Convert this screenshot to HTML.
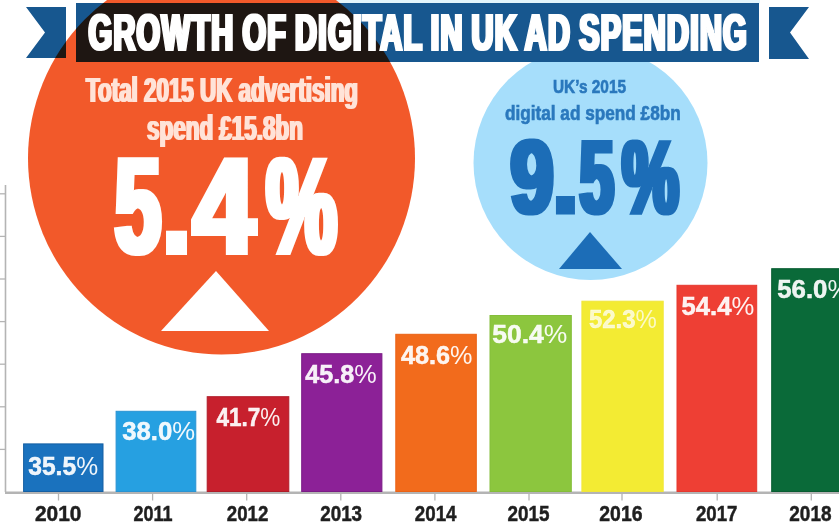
<!DOCTYPE html>
<html lang="en"><head><meta charset="utf-8"><title>Growth of digital in UK ad spending</title>
<style>
html,body{margin:0;padding:0;background:#fff;}
body{width:839px;height:523px;overflow:hidden;}
svg{display:block;}
text{font-family:"Liberation Sans",sans-serif;font-weight:700;}
</style></head><body>
<svg width="839" height="523" viewBox="0 0 839 523">
<defs>
<filter id="d1" x="-5%" y="-20%" width="110%" height="140%"><feMorphology operator="dilate" radius="1 0"/></filter>
<filter id="d2" x="-5%" y="-20%" width="110%" height="140%"><feMorphology operator="dilate" radius="2 0"/></filter>
<clipPath id="oc"><ellipse cx="221.5" cy="158.3" rx="193.5" ry="196.3"/></clipPath>
</defs>
<rect width="839" height="523" fill="#fff"/>
<rect x="330" y="0" width="430" height="3.5" fill="#e3f5fc"/>

<g stroke="#b4b4b4" stroke-width="1.6" fill="none">
<line x1="5.5" y1="185" x2="5.5" y2="492"/>
<line x1="5" y1="492.7" x2="839" y2="492.7" stroke-width="2.4"/>
<line x1="0" y1="449.4" x2="5.5" y2="449.4" stroke-width="1.3"/>
<line x1="0" y1="406.8" x2="5.5" y2="406.8" stroke-width="1.3"/>
<line x1="0" y1="364.2" x2="5.5" y2="364.2" stroke-width="1.3"/>
<line x1="0" y1="321.6" x2="5.5" y2="321.6" stroke-width="1.3"/>
<line x1="0" y1="279.0" x2="5.5" y2="279.0" stroke-width="1.3"/>
<line x1="0" y1="236.4" x2="5.5" y2="236.4" stroke-width="1.3"/>
<line x1="0" y1="193.8" x2="5.5" y2="193.8" stroke-width="1.3"/>
<line x1="58.5" y1="493" x2="58.5" y2="500.5" stroke-width="1.3"/>
<line x1="152.6" y1="493" x2="152.6" y2="500.5" stroke-width="1.3"/>
<line x1="246.7" y1="493" x2="246.7" y2="500.5" stroke-width="1.3"/>
<line x1="340.8" y1="493" x2="340.8" y2="500.5" stroke-width="1.3"/>
<line x1="434.9" y1="493" x2="434.9" y2="500.5" stroke-width="1.3"/>
<line x1="529.0" y1="493" x2="529.0" y2="500.5" stroke-width="1.3"/>
<line x1="622.0" y1="493" x2="622.0" y2="500.5" stroke-width="1.3"/>
<line x1="717.2" y1="493" x2="717.2" y2="500.5" stroke-width="1.3"/>
<line x1="811.3" y1="493" x2="811.3" y2="500.5" stroke-width="1.3"/>
</g>
<rect x="23.6" y="443.9" width="79.4" height="47.6" fill="#1a72be" stroke="#155fa3" stroke-width="1"/>
<rect x="116.1" y="411.3" width="79.7" height="80.2" fill="#26a0e1" stroke="#2a93d2" stroke-width="1"/>
<rect x="207.2" y="396.7" width="81.6" height="94.8" fill="#c7202d" stroke="#b01c28" stroke-width="1"/>
<rect x="301.7" y="353.7" width="80.2" height="137.8" fill="#8c2197" stroke="#7a1c85" stroke-width="1"/>
<rect x="395.8" y="334.3" width="80.5" height="157.2" fill="#f26b1c" stroke="#ea6215" stroke-width="1"/>
<rect x="490.0" y="315.5" width="81.3" height="176.0" fill="#8cc63e" stroke="#84bd3a" stroke-width="1"/>
<rect x="581.9" y="301.2" width="81.3" height="190.3" fill="#f3eb33" stroke="#f0e63a" stroke-width="1"/>
<rect x="677.0" y="285.3" width="79.7" height="206.2" fill="#ee3f34" stroke="#e5382f" stroke-width="1"/>
<rect x="771.7" y="268.7" width="72.8" height="222.8" fill="#0a6a39" stroke="#075c31" stroke-width="1"/>
<text x="28.2" y="475.3" font-size="25" fill="#fff" fill-opacity="0.93" textLength="69.9" lengthAdjust="spacingAndGlyphs"><tspan stroke="#fff" stroke-opacity="0.93" stroke-width="0.5">35.5</tspan><tspan font-weight="400">%</tspan></text>
<text x="122.2" y="440.2" font-size="25" fill="#fff" fill-opacity="0.93" textLength="72.9" lengthAdjust="spacingAndGlyphs"><tspan stroke="#fff" stroke-opacity="0.93" stroke-width="0.5">38.0</tspan><tspan font-weight="400">%</tspan></text>
<text x="216.4" y="426.0" font-size="25" fill="#fff" fill-opacity="0.93" textLength="63.9" lengthAdjust="spacingAndGlyphs"><tspan stroke="#fff" stroke-opacity="0.93" stroke-width="0.5">41.7</tspan><tspan font-weight="400">%</tspan></text>
<text x="305.2" y="383.0" font-size="25" fill="#fff" fill-opacity="0.93" textLength="71.6" lengthAdjust="spacingAndGlyphs"><tspan stroke="#fff" stroke-opacity="0.93" stroke-width="0.5">45.8</tspan><tspan font-weight="400">%</tspan></text>
<text x="400.9" y="364.0" font-size="25" fill="#fff" fill-opacity="0.93" textLength="71.5" lengthAdjust="spacingAndGlyphs"><tspan stroke="#fff" stroke-opacity="0.93" stroke-width="0.5">48.6</tspan><tspan font-weight="400">%</tspan></text>
<text x="492.3" y="342.7" font-size="25" fill="#fff" fill-opacity="0.93" textLength="75.1" lengthAdjust="spacingAndGlyphs"><tspan stroke="#fff" stroke-opacity="0.93" stroke-width="0.5">50.4</tspan><tspan font-weight="400">%</tspan></text>
<text x="588.9" y="328.0" font-size="25" fill="#fff" fill-opacity="0.72" textLength="67.9" lengthAdjust="spacingAndGlyphs"><tspan stroke="#fff" stroke-opacity="0.72" stroke-width="0.5">52.3</tspan><tspan font-weight="400">%</tspan></text>
<text x="681.6" y="315.2" font-size="25" fill="#fff" fill-opacity="0.93" textLength="72.7" lengthAdjust="spacingAndGlyphs"><tspan stroke="#fff" stroke-opacity="0.93" stroke-width="0.5">54.4</tspan><tspan font-weight="400">%</tspan></text>
<text x="777.2" y="297.5" font-size="25" fill="#fff" fill-opacity="0.93" textLength="73.2" lengthAdjust="spacingAndGlyphs"><tspan stroke="#fff" stroke-opacity="0.93" stroke-width="0.5">56.0</tspan><tspan font-weight="400">%</tspan></text>
<text x="35.0" y="520.7" font-size="22" fill="#1f1f1f" stroke="#1f1f1f" stroke-width="0.5" textLength="46.5" lengthAdjust="spacingAndGlyphs">2010</text>
<text x="133.4" y="520.7" font-size="22" fill="#1f1f1f" stroke="#1f1f1f" stroke-width="0.5" textLength="39.0" lengthAdjust="spacingAndGlyphs">2011</text>
<text x="226.8" y="520.7" font-size="22" fill="#1f1f1f" stroke="#1f1f1f" stroke-width="0.5" textLength="41.5" lengthAdjust="spacingAndGlyphs">2012</text>
<text x="320.2" y="520.7" font-size="22" fill="#1f1f1f" stroke="#1f1f1f" stroke-width="0.5" textLength="41.9" lengthAdjust="spacingAndGlyphs">2013</text>
<text x="414.8" y="520.7" font-size="22" fill="#1f1f1f" stroke="#1f1f1f" stroke-width="0.5" textLength="41.7" lengthAdjust="spacingAndGlyphs">2014</text>
<text x="507.6" y="520.7" font-size="22" fill="#1f1f1f" stroke="#1f1f1f" stroke-width="0.5" textLength="42.0" lengthAdjust="spacingAndGlyphs">2015</text>
<text x="599.3" y="520.7" font-size="22" fill="#1f1f1f" stroke="#1f1f1f" stroke-width="0.5" textLength="43.2" lengthAdjust="spacingAndGlyphs">2016</text>
<text x="696.0" y="520.7" font-size="22" fill="#1f1f1f" stroke="#1f1f1f" stroke-width="0.5" textLength="41.5" lengthAdjust="spacingAndGlyphs">2017</text>
<text x="789.3" y="520.7" font-size="22" fill="#1f1f1f" stroke="#1f1f1f" stroke-width="0.5" textLength="42.2" lengthAdjust="spacingAndGlyphs">2018</text>
<ellipse cx="221.5" cy="158.3" rx="193.5" ry="196.3" fill="#f2592a"/>
<circle cx="590.5" cy="163" r="117" fill="#a6defb"/>
<g fill="#17578f"><polygon points="26,7 66,7 66,58 26,58 45,32.5"/>
<rect x="76" y="3" width="683" height="59"/>
<polygon points="769,7 809,7 790,32.5 809,59 769,59"/></g>
<g fill="#1e1612" clip-path="url(#oc)"><polygon points="26,7 66,7 66,58 26,58 45,32.5"/>
<rect x="76" y="3" width="683" height="59"/>
<polygon points="769,7 809,7 790,32.5 809,59 769,59"/></g>
<text x="88.5" y="50.4" font-size="50.5" fill="#fff" stroke="#fff" stroke-width="2" stroke-linejoin="miter" filter="url(#d1)" letter-spacing="2.2" word-spacing="-3" textLength="659.5" lengthAdjust="spacingAndGlyphs">GROWTH OF DIGITAL IN UK AD SPENDING</text>
<text x="86" y="102" font-size="35" fill="#ffe3d8" filter="url(#d1)" textLength="272" lengthAdjust="spacingAndGlyphs">Total 2015 UK advertising</text>
<text x="147" y="139.5" font-size="35" fill="#ffe3d8" filter="url(#d1)" textLength="156" lengthAdjust="spacingAndGlyphs">spend £15.8bn</text>
<text y="253.2" font-size="134.5" fill="#fff" stroke="#fff" stroke-width="4" stroke-linejoin="miter" filter="url(#d2)"><tspan x="114.67" textLength="46.41" lengthAdjust="spacingAndGlyphs">5</tspan><tspan x="162.73" textLength="27.64" lengthAdjust="spacingAndGlyphs">.</tspan><tspan x="192.97" textLength="61.97" lengthAdjust="spacingAndGlyphs">4</tspan><tspan x="266.2" textLength="70.71" lengthAdjust="spacingAndGlyphs">%</tspan></text>
<polygon points="216,271 161,331 269,331" fill="#fff"/>
<text x="553" y="93.4" font-size="18.5" fill="#2a78bd" stroke="#2a78bd" stroke-width="0.6" textLength="73" lengthAdjust="spacingAndGlyphs">UK’s 2015</text>
<text x="505" y="120.3" font-size="20" fill="#2a78bd" stroke="#2a78bd" stroke-width="0.6" textLength="175.7" lengthAdjust="spacingAndGlyphs">digital ad spend £8bn</text>
<text y="213" font-size="103" fill="#1c6db7" stroke="#1c6db7" stroke-width="3" stroke-linejoin="miter" filter="url(#d2)"><tspan x="510.44" textLength="43.05" lengthAdjust="spacingAndGlyphs">9</tspan><tspan x="553.3" textLength="24.48" lengthAdjust="spacingAndGlyphs">.</tspan><tspan x="579.76" textLength="34.05" lengthAdjust="spacingAndGlyphs">5</tspan><tspan x="622.34" textLength="56.4" lengthAdjust="spacingAndGlyphs">%</tspan></text>
<polygon points="590,232 559,269 622,269" fill="#1c6db7"/>
</svg></body></html>
